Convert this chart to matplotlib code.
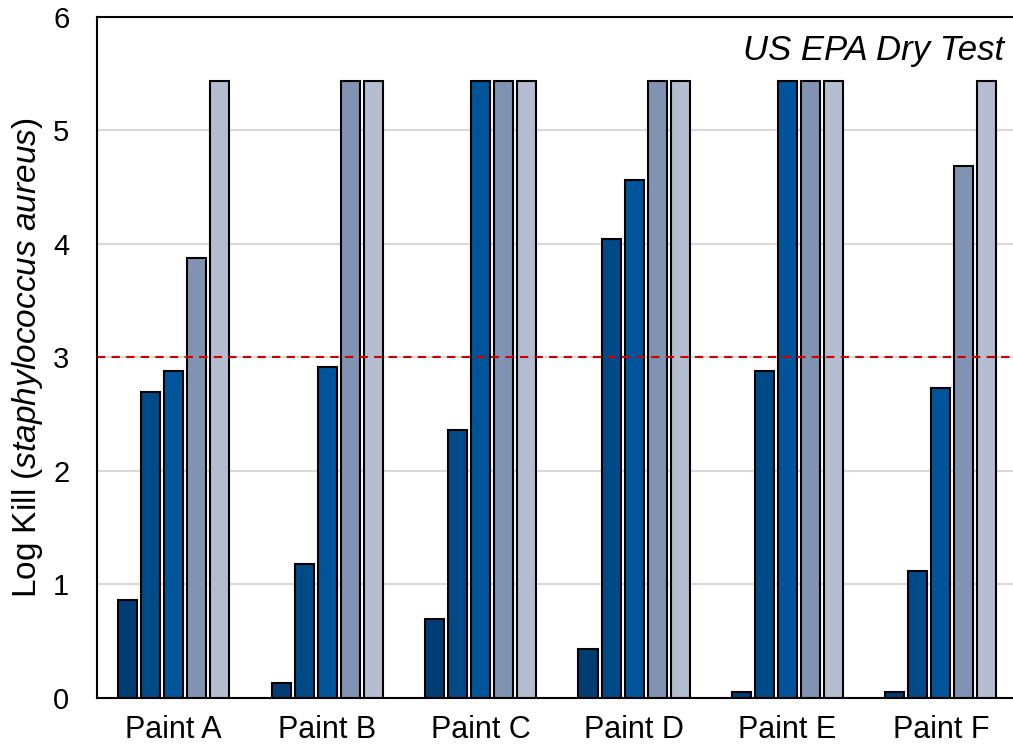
import numpy as np
import matplotlib
matplotlib.use('Agg')
import matplotlib.pyplot as plt

plt.rcParams['font.family'] = 'Liberation Sans'
plt.rcParams['mathtext.fontset'] = 'custom'
plt.rcParams['mathtext.rm'] = 'Liberation Sans'
plt.rcParams['mathtext.it'] = 'Liberation Sans:italic'
plt.rcParams['font.size'] = 21

paints = ['Paint A', 'Paint B', 'Paint C', 'Paint D', 'Paint E', 'Paint F']
s1 = [0.86, 0.13, 0.70, 0.43, 0.05, 0.05]
s2 = [2.70, 1.18, 2.36, 4.04, 2.88, 1.12]
s3 = [2.88, 2.92, 5.44, 4.56, 5.44, 2.73]
s4 = [3.88, 5.44, 5.44, 5.44, 5.44, 4.69]
s5 = [5.44, 5.44, 5.44, 5.44, 5.44, 5.44]
series = [s1, s2, s3, s4, s5]
colors = ['#003d73', '#004a88', '#00559a', '#8193b2', '#b4bccf']
threshold = 3

fig = plt.figure(figsize=(10.13, 7.51), dpi=100)
ax = fig.add_axes([0.0958, 0.0706, 0.9042, 0.9068])

x = np.arange(len(paints))
slot = 0.15
for i, (vals, c) in enumerate(zip(series, colors)):
    ax.bar(x + (i - 2) * slot, vals, width=0.124, color=c,
           edgecolor='black', linewidth=1.5, zorder=3)

ax.axhline(threshold, color='#d00000', linestyle=(0, (4, 3)), linewidth=1.5, zorder=4)

ax.set_ylim(0, 6)
ax.set_xlim(-0.5, 5.47)
ax.set_yticks(range(7))
ax.set_xticks(x)
ax.set_xticklabels(paints, fontsize=22)
ax.tick_params(axis='x', length=0, pad=12)
ax.tick_params(axis='y', length=0, labelsize=21, pad=20)
ax.yaxis.grid(True, color='#d9d9d9', linewidth=1.5, zorder=0)
ax.set_axisbelow(True)
for s in ['left', 'top', 'bottom']:
    ax.spines[s].set_linewidth(1.5)
ax.spines['right'].set_visible(False)

ax.set_ylabel(r'Log Kill ($\mathit{staphylococcus\ aureus}$)', fontsize=24, labelpad=6)
ax.text(0.99, 0.975, 'US EPA Dry Test', transform=ax.transAxes, ha='right', va='top',
        style='italic', fontsize=25)

fig.savefig('out.png', dpi=100)
